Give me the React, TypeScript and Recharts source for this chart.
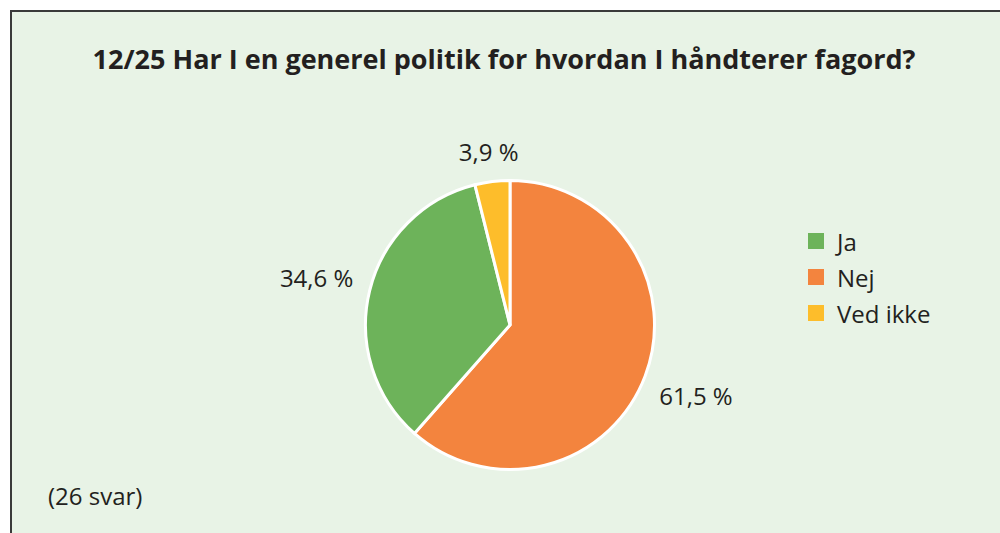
import React from "react";
import { PieChart, Pie, Cell } from "recharts";

const title = "12/25 Har I en generel politik for hvordan I håndterer fagord?";
const note = "(26 svar)";
// Pie order (clockwise from 12 o'clock)
const sliceNames = ["Nej", "Ja", "Ved ikke"];
const sliceValues = [61.5, 34.6, 3.9];
const sliceColors = ["#f3843e", "#6db35a", "#fdbd2b"];
// Legend order
const legendNames = ["Ja", "Nej", "Ved ikke"];
const legendColors = ["#6db35a", "#f3843e", "#fdbd2b"];

const data = sliceNames.map((name, i) => ({ name, value: sliceValues[i] }));

const FONT = "'Open Sans', sans-serif";
const TEXT = "#231f20";
const RAD = Math.PI / 180;

const renderLabel = (props: any) => {
  const { cx, cy, midAngle, outerRadius, value } = props;
  const c = Math.cos(-midAngle * RAD);
  const s = Math.sin(-midAngle * RAD);
  const label = `${String(value).replace(".", ",")} %`;
  const hw = label.length * 5.9;
  const hh = 9;
  const r = outerRadius + 18 + hw * Math.abs(c) + hh * Math.abs(s);
  return (
    <text
      x={cx + r * c}
      y={cy + r * s}
      textAnchor="middle"
      dominantBaseline="central"
      fill={TEXT}
      fontFamily={FONT}
      fontSize={24}
    >
      {label}
    </text>
  );
};

export default function App() {
  return (
    <div style={{ position: "absolute", left: 0, top: 0, width: 1000, height: 533, background: "#ffffff", overflow: "hidden" }}>
      <div
        style={{
          position: "absolute",
          left: 10,
          top: 10,
          width: 1000,
          height: 533,
          background: "#e8f3e6",
          borderLeft: "2px solid #3a3a3a",
          borderTop: "2px solid #3a3a3a",
        }}
      />
      <div
        style={{
          position: "absolute",
          left: 0,
          top: 40,
          width: 1008,
          textAlign: "center",
          fontFamily: FONT,
          fontWeight: 700,
          fontSize: 27,
          color: TEXT,
        }}
      >
        {title}
      </div>
      <div style={{ position: "absolute", left: 0, top: 0 }}>
        <PieChart width={1000} height={533} margin={{ top: 0, right: 0, bottom: 0, left: 0 }}>
          <Pie
            data={data}
            dataKey="value"
            nameKey="name"
            cx={510}
            cy={325}
            outerRadius={144.5}
            startAngle={90}
            endAngle={-270}
            stroke="#ffffff"
            strokeWidth={3}
            label={renderLabel}
            labelLine={false}
            isAnimationActive={false}
          >
            {data.map((d, i) => (
              <Cell key={d.name} fill={sliceColors[i]} />
            ))}
          </Pie>
        </PieChart>
      </div>
      {legendNames.map((n, i) => (
        <div
          key={n}
          style={{
            position: "absolute",
            left: 808,
            top: 225 + i * 36,
            height: 32,
            display: "flex",
            alignItems: "center",
            fontFamily: FONT,
            fontSize: 24,
            color: TEXT,
          }}
        >
          <span style={{ display: "inline-block", width: 16, height: 16, background: legendColors[i], marginRight: 13 }} />
          {n}
        </div>
      ))}
      <div
        style={{
          position: "absolute",
          left: 48,
          top: 479,
          fontFamily: FONT,
          fontSize: 24,
          color: TEXT,
        }}
      >
        {note}
      </div>
    </div>
  );
}
